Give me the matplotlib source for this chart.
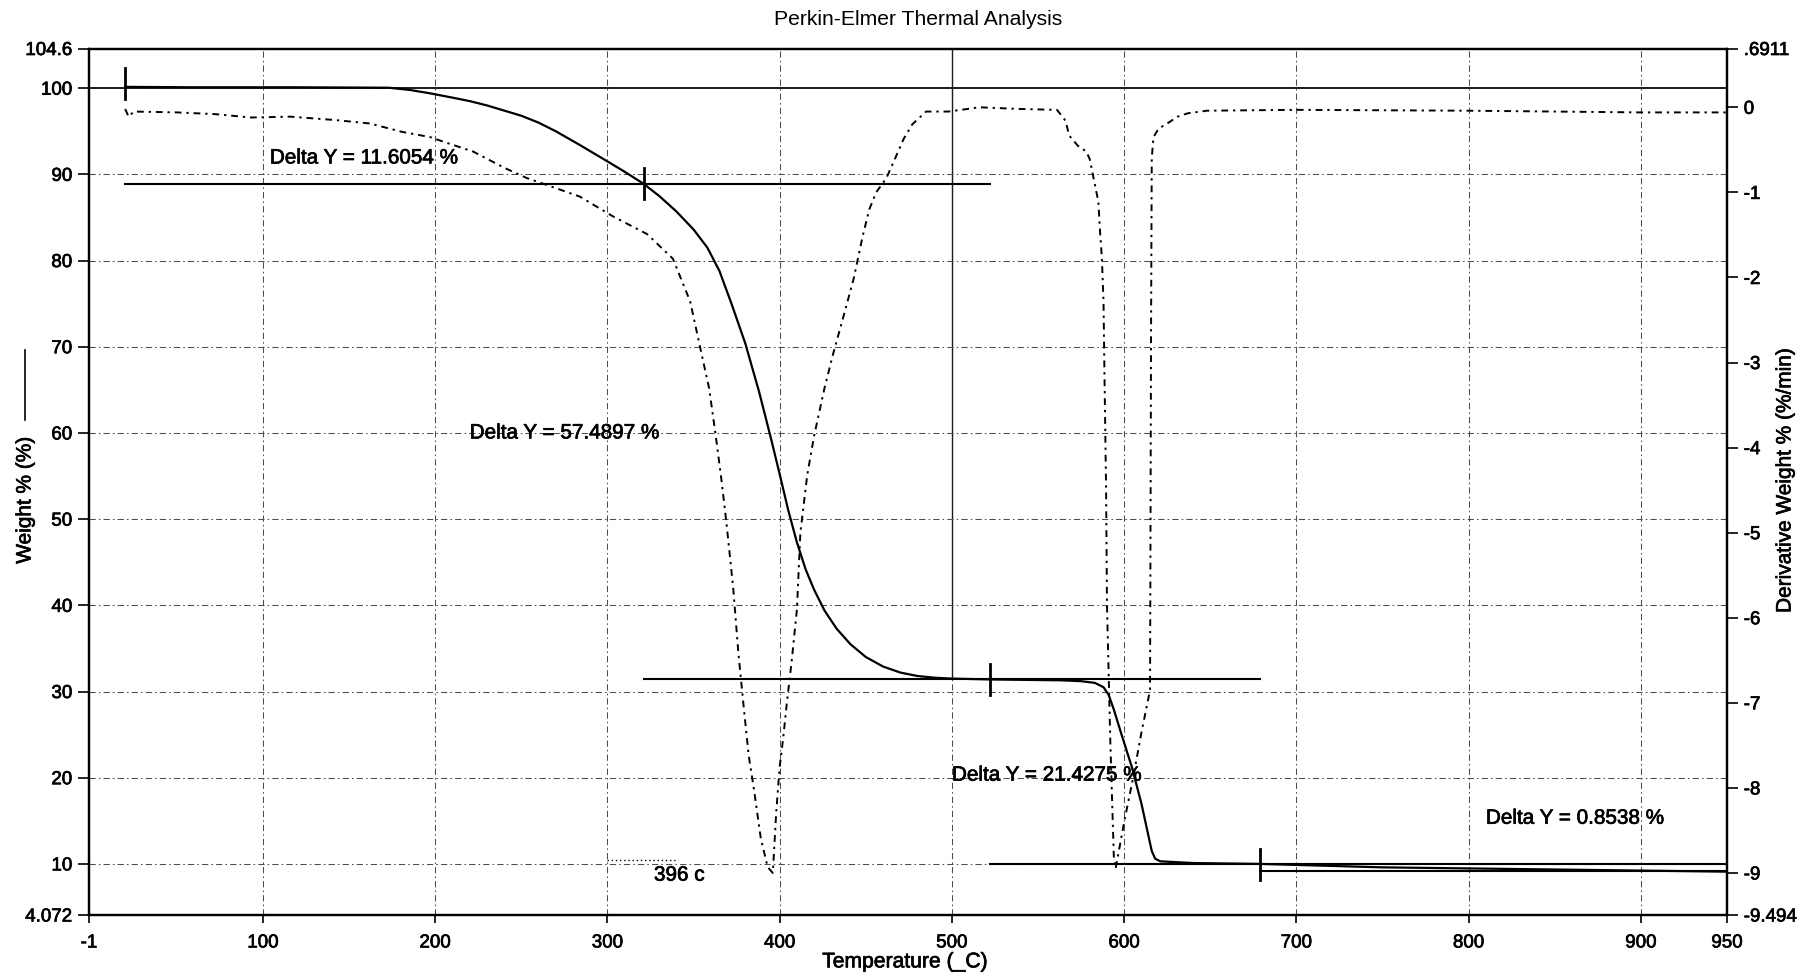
#!/usr/bin/env python
"""
TGA / DTG plot: weight % and derivative weight % vs temperature,
with step-change cursors and Delta Y readouts.
Produces out.png
"""

import matplotlib

matplotlib.use("Agg")
import matplotlib.pyplot as plt
import matplotlib.patheffects as pe
from matplotlib.lines import Line2D

# Weight % trace (left axis)
WEIGHT_T = [20, 60, 120, 173, 185, 197, 210, 220, 230, 240, 250, 260, 270, 284,
            300, 310, 321, 330, 340, 350, 358, 365, 372, 380, 388, 395, 400, 405,
            410, 415, 420, 426, 433, 441, 450, 460, 470, 480, 490, 500, 522, 563,
            575, 583, 588, 591, 594, 598, 604.5, 610, 616, 618, 621, 640, 679,
            750, 850, 950]
WEIGHT = [100.15, 100.1, 100.1, 100.05, 99.8, 99.4, 98.9, 98.5, 98.0, 97.4, 96.8,
          96.0, 95.0, 93.4, 91.5, 90.3, 88.9, 87.5, 85.7, 83.6, 81.5, 78.8, 75.0,
          70.4, 64.8, 59.3, 55.2, 51.0, 47.3, 44.2, 41.8, 39.4, 37.3, 35.5, 34.0,
          32.9, 32.2, 31.8, 31.6, 31.5, 31.4, 31.3, 31.2, 31.0, 30.5, 29.6, 27.9,
          25.3, 21.2, 17.0, 11.5, 10.6, 10.3, 10.1, 10.0, 9.6, 9.35, 9.1]

# Derivative weight % trace (right axis)
DERIV_T = [20, 22, 25, 50, 72, 93, 116, 142, 162, 181, 197, 207, 222, 240, 253,
           270, 284, 303, 323, 338, 348, 354, 359, 363, 366, 369, 373, 376, 379,
           382, 385, 389, 393, 396, 398, 400, 402, 404, 407, 410, 412, 416, 420,
           426, 431, 437, 443, 448, 452, 456, 462, 467, 472, 477, 485, 498, 516,
           540, 561, 566, 568, 573, 578, 580, 583, 585, 586, 587, 588, 588.5,
           589.5, 590, 592, 594, 595, 600, 605, 610, 615, 615.3, 615.6, 616, 617,
           620, 625, 631, 637, 648, 700, 800, 900, 950]
DERIV = [-0.02, -0.11, -0.05, -0.06, -0.08, -0.12, -0.11, -0.15, -0.19, -0.29,
         -0.35, -0.42, -0.52, -0.71, -0.83, -0.95, -1.05, -1.28, -1.49, -1.78,
         -2.28, -2.84, -3.30, -3.88, -4.35, -4.87, -5.65, -6.41, -7.03, -7.62,
         -8.01, -8.59, -8.93, -9.00, -8.28, -7.75, -7.42, -7.03, -6.50, -5.90,
         -5.00, -4.32, -3.86, -3.30, -2.90, -2.46, -2.01, -1.53, -1.20, -1.00,
         -0.83, -0.60, -0.37, -0.20, -0.05, -0.05, 0.00, -0.02, -0.03, -0.16,
         -0.33, -0.45, -0.52, -0.61, -0.91, -1.11, -1.47, -1.76, -2.28, -3.07,
         -4.50, -5.85, -7.50, -8.82, -8.95, -8.40, -7.90, -7.35, -6.85, -4.80,
         -2.60, -0.60, -0.35, -0.25, -0.19, -0.11, -0.07, -0.04, -0.03, -0.04,
         -0.06, -0.06]

# Step analysis cursors
START_LEVEL = 100.5
CURSOR_T = [20, 321, 522, 679, 950]
DELTA_Y = [11.6054, 57.4897, 21.4275, 0.8538]
DELTA_LABEL_POS = [(104, 91.9), (220, 60.0), (500, 20.3), (810, 15.3)]

PEAK_T = 396
PEAK_LABEL_POS = (327, 8.7)

X_TICKS = [-1, 100, 200, 300, 400, 500, 600, 700, 800, 900, 950]
Y_TICKS = [4.072, 10, 20, 30, 40, 50, 60, 70, 80, 90, 100, 104.6]
Y_TICK_LABELS = ["4.072", "10", "20", "30", "40", "50", "60", "70", "80", "90", "100", "104.6"]
Y2_TICKS = [-9.494, -9, -8, -7, -6, -5, -4, -3, -2, -1, 0, 0.6911]
Y2_TICK_LABELS = ["-9.494", "-9", "-8", "-7", "-6", "-5", "-4", "-3", "-2", "-1", "0", ".6911"]

plt.rcParams.update(
    {
        "font.family": ["Liberation Sans", "DejaVu Sans"],
        "xtick.labelsize": 13.5,
        "ytick.labelsize": 13.5,
    }
)

GRID_STYLE = dict(color="0.3", lw=0.75, ls=(0, (6, 3, 1.5, 3)), zorder=1)
# printed text comes out slightly heavy
INK = [pe.withStroke(linewidth=0.5, foreground="black")]


def main():
    fig = plt.figure(figsize=(18.09, 9.76), dpi=100)
    ax = fig.add_axes([0.0492, 0.0625, 0.9055, 0.8878])
    ax2 = ax.twinx()

    ax.set_xlim(-1, 950)
    ax.set_ylim(4.072, 104.6)
    ax2.set_ylim(-9.494, 0.6911)

    # grid on the weight axis ticks; 500 C line is solid above the residue plateau
    for t in X_TICKS[1:-1]:
        if t == 500:
            ax.plot([t, t], [31.4, 104.6], color="0.1", lw=1.0, zorder=1)
            ax.plot([t, t], [4.072, 31.4], **GRID_STYLE)
        else:
            ax.axvline(t, **GRID_STYLE)
    for w in Y_TICKS[1:-1]:
        if w == 100:
            ax.axhline(w, color="0.1", lw=1.4, zorder=1)
        else:
            ax.axhline(w, **GRID_STYLE)

    # weight curve
    ax.plot(WEIGHT_T, WEIGHT, color="black", lw=1.6, zorder=4)

    # derivative curve
    ax2.plot(DERIV_T, DERIV, color="black", lw=1.4, ls=(0, (3.5, 2.5, 1.2, 2.5)), zorder=4)

    # step levels from the Delta Y readouts (start level sits on the 100 line)
    levels = [START_LEVEL]
    for d in DELTA_Y:
        levels.append(levels[-1] - d)
    n = len(CURSOR_T)
    for i, lev in enumerate(levels):
        if i > 0:
            t0 = CURSOR_T[i - 1]
            t1 = CURSOR_T[min(i + 1, n - 1)]
            ax.plot([t0, t1], [lev, lev], color="black", lw=1.5, zorder=3)
        if i < n - 1:
            ax.plot([CURSOR_T[i], CURSOR_T[i]], [lev - 1.8, lev + 1.8],
                    color="black", lw=2.0, zorder=5)

    for d, (tx, ty) in zip(DELTA_Y, DELTA_LABEL_POS):
        ax.text(tx, ty, f"Delta Y = {d:.4f} %", fontsize=14.9, ha="left",
                va="center", zorder=6, path_effects=INK)

    # peak temperature readout
    ax.plot([300, 341], [10.5, 10.5], color="black", lw=1.0, ls=(0, (1, 2)), zorder=3)
    ax.text(PEAK_LABEL_POS[0], PEAK_LABEL_POS[1], f"{PEAK_T} c", fontsize=14.9,
            ha="left", va="center", zorder=6, path_effects=INK)

    ax.set_xticks(X_TICKS)
    ax.set_xticklabels([str(t) for t in X_TICKS])
    ax.set_yticks(Y_TICKS)
    ax.set_yticklabels(Y_TICK_LABELS)
    ax2.set_yticks(Y2_TICKS)
    ax2.set_yticklabels(Y2_TICK_LABELS)

    ax.tick_params(axis="x", direction="out", length=6, width=1.2, pad=8)
    ax.tick_params(axis="y", direction="out", length=8, width=1.2, pad=4)
    ax2.tick_params(axis="y", direction="out", length=8, width=1.2, pad=4)
    for lab in ax.get_xticklabels() + ax.get_yticklabels() + ax2.get_yticklabels():
        lab.set_path_effects(INK)

    for a in (ax, ax2):
        for sp in a.spines.values():
            sp.set_linewidth(1.6)
            sp.set_color("black")

    fig.text(0.5077, 0.980, "Perkin-Elmer Thermal Analysis", fontsize=15.2,
             ha="center", va="center")
    fig.text(905 / 1809, 1 - 962 / 976, "Temperature (_C)", fontsize=15.2,
             ha="center", va="center", path_effects=INK)
    fig.text(25 / 1809, 1 - 500 / 976, "Weight % (%)", fontsize=15,
             rotation=90, ha="center", va="center", path_effects=INK)
    fig.add_artist(Line2D([25 / 1809, 25 / 1809], [1 - 420 / 976, 1 - 350 / 976],
                          color="black", lw=1.2, transform=fig.transFigure))
    fig.text(1785 / 1809, 1 - 480 / 976, "Derivative Weight % (%/min)", fontsize=15,
             rotation=90, ha="center", va="center", path_effects=INK)

    fig.savefig("out.png", dpi=100, facecolor="white")
    plt.close(fig)


if __name__ == "__main__":
    main()
